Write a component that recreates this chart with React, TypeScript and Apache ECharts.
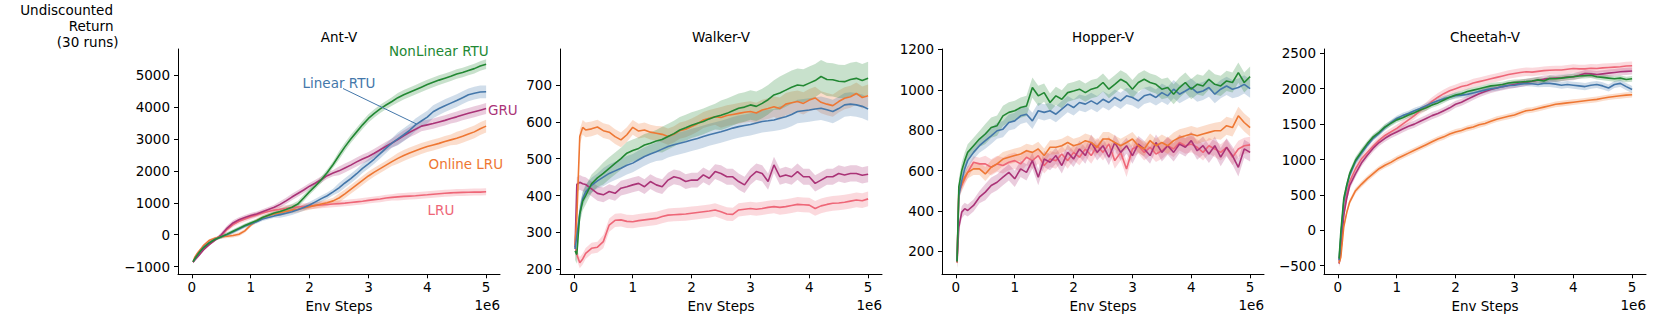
import React, { useEffect, useRef } from "react";
import * as echarts from "echarts";

// Env steps (x 1e6)
const X = [0.02, 0.05, 0.1, 0.15, 0.2, 0.3, 0.4, 0.5, 0.6, 0.7, 0.8, 0.9, 1.0, 1.1, 1.2, 1.3, 1.4, 1.5, 1.6, 1.7, 1.8, 1.9, 2.0, 2.1, 2.2, 2.3, 2.4, 2.5, 2.6, 2.7, 2.8, 2.9, 3.0, 3.1, 3.2, 3.3, 3.4, 3.5, 3.6, 3.7, 3.8, 3.9, 4.0, 4.1, 4.2, 4.3, 4.4, 4.5, 4.6, 4.7, 4.8, 4.9, 5.0];
const X_TICKS = [0, 1, 2, 3, 4, 5];

const METHODS = ["LRU", "GRU", "Online LRU", "Linear RTU", "NonLinear RTU"];
const COLORS = ["#EE6677", "#AA3377", "#EE7733", "#4477AA", "#228833"];

const PANELS = ["Ant-V", "Walker-V", "Hopper-V", "Cheetah-V"];

// ---- Ant-V ----
const antLRU = [-850, -770, -660, -550, -450, -290, -150, -30, 170, 320, 420, 490, 560, 620, 680, 730, 770, 800, 830, 850, 870, 885, 900, 915, 930, 945, 960, 975, 990, 1010, 1030, 1050, 1075, 1100, 1120, 1150, 1170, 1185, 1200, 1210, 1220, 1235, 1250, 1270, 1285, 1300, 1310, 1320, 1325, 1330, 1340, 1335, 1345];
const antGRU = [-860, -790, -690, -580, -470, -300, -160, 0, 210, 370, 470, 540, 600, 650, 720, 790, 860, 950, 1060, 1180, 1290, 1400, 1520, 1620, 1730, 1850, 1930, 2000, 2090, 2180, 2280, 2370, 2450, 2550, 2660, 2770, 2870, 2980, 3100, 3210, 3300, 3400, 3440, 3480, 3530, 3580, 3640, 3690, 3750, 3800, 3850, 3900, 3950];
const antOnlineLRU = [-850, -700, -560, -450, -330, -170, -100, -65, -45, -25, 15, 120, 300, 440, 530, 600, 650, 690, 730, 770, 800, 840, 880, 920, 960, 1000, 1060, 1150, 1280, 1420, 1560, 1700, 1840, 1960, 2070, 2180, 2290, 2390, 2480, 2560, 2630, 2700, 2760, 2810, 2860, 2920, 2970, 3020, 3080, 3150, 3220, 3320, 3400];
const antLinearRTU = [-850, -760, -620, -500, -390, -240, -130, -60, 10, 90, 180, 270, 340, 410, 490, 540, 590, 630, 670, 720, 780, 850, 930, 1030, 1130, 1220, 1340, 1470, 1620, 1760, 1910, 2080, 2220, 2370, 2540, 2710, 2870, 3000, 3130, 3270, 3440, 3560, 3680, 3850, 3950, 4040, 4120, 4200, 4290, 4380, 4430, 4470, 4475];
const antNonLinearRTU = [-840, -750, -620, -500, -400, -250, -140, -60, 20, 110, 200, 290, 370, 440, 540, 610, 680, 730, 790, 860, 960, 1150, 1350, 1530, 1720, 1950, 2200, 2480, 2750, 3000, 3220, 3440, 3640, 3800, 3940, 4060, 4170, 4290, 4380, 4460, 4540, 4620, 4700, 4770, 4840, 4900, 4960, 5030, 5080, 5140, 5200, 5280, 5340];
// spread (at 0,1,2,3,4,5 e6)
const antLRUsd = [40, 80, 100, 100, 110, 110];
const antGRUsd = [40, 80, 100, 140, 160, 170];
const antOnlineLRUsd = [40, 60, 100, 140, 170, 200];
const antLinearRTUsd = [40, 60, 100, 150, 200, 200];
const antNonLinearRTUsd = [40, 60, 100, 130, 150, 150];

// ---- Walker-V ----
const walkerLRU = [262, 240, 218, 228, 243, 257, 260, 275, 320, 333, 334, 330, 329, 332, 334, 336, 338, 343, 347, 348, 349, 350, 352, 354, 356, 358, 361, 356, 350, 349, 361, 363, 365, 363, 365, 368, 370, 368, 370, 373, 376, 375, 374, 365, 372, 376, 379, 380, 382, 385, 388, 386, 391];
const walkerGRU = [260, 430, 436, 432, 430, 418, 406, 402, 411, 406, 420, 424, 429, 433, 424, 438, 429, 424, 442, 451, 447, 438, 442, 442, 456, 447, 465, 460, 451, 451, 438, 429, 451, 465, 460, 438, 483, 451, 456, 451, 465, 451, 451, 433, 442, 451, 451, 460, 456, 460, 460, 455, 458];
const walkerOnlineLRU = [265, 340, 560, 585, 578, 581, 586, 576, 572, 560, 551, 565, 585, 575, 578, 572, 569, 566, 560, 566, 576, 580, 587, 595, 605, 610, 614, 612, 617, 620, 623, 626, 628, 624, 632, 636, 641, 636, 648, 652, 655, 650, 659, 665, 653, 648, 644, 655, 664, 668, 677, 666, 671];
const walkerLinearRTU = [255, 290, 352, 392, 410, 428, 440, 450, 460, 467, 474, 482, 488, 497, 506, 513, 519, 526, 533, 538, 542, 546, 551, 555, 560, 565, 569, 573, 578, 583, 587, 590, 593, 597, 601, 603, 605, 610, 614, 620, 628, 630, 632, 635, 637, 633, 628, 636, 646, 648, 646, 642, 635];
const walkerNonLinearRTU = [250, 240, 350, 385, 400, 432, 448, 460, 474, 487, 500, 515, 522, 528, 537, 542, 548, 552, 560, 568, 578, 584, 591, 596, 601, 608, 614, 618, 623, 630, 637, 640, 646, 642, 650, 660, 673, 678, 686, 694, 700, 698, 705, 712, 723, 715, 714, 710, 709, 715, 718, 712, 718];
const walkerLRUsd = [15, 18, 18, 18, 20, 20];
const walkerGRUsd = [20, 20, 20, 22, 22, 22];
const walkerOnlineLRUsd = [20, 20, 22, 28, 30, 30];
const walkerLinearRTUsd = [20, 25, 30, 30, 32, 32];
const walkerNonLinearRTUsd = [25, 30, 35, 40, 45, 45];

// ---- Hopper-V ----
const hopperLRU = [145, 493, 526, 559, 591, 641, 633, 633, 616, 633, 625, 641, 649, 633, 666, 649, 674, 625, 657, 649, 682, 649, 690, 666, 707, 674, 723, 690, 731, 649, 690, 608, 707, 723, 690, 715, 682, 698, 723, 707, 739, 723, 731, 715, 690, 723, 707, 690, 715, 666, 707, 723, 727];
const hopperGRU = [145, 320, 394, 411, 402, 427, 468, 493, 526, 542, 567, 591, 559, 608, 591, 649, 567, 657, 641, 674, 625, 690, 657, 707, 674, 739, 690, 723, 666, 739, 690, 723, 674, 731, 707, 674, 739, 690, 723, 690, 731, 715, 748, 698, 723, 682, 723, 666, 715, 674, 616, 707, 690];
const hopperOnlineLRU = [145, 493, 534, 567, 591, 608, 608, 583, 616, 633, 657, 666, 674, 682, 698, 690, 707, 674, 715, 715, 723, 739, 723, 731, 748, 739, 715, 756, 756, 739, 723, 739, 756, 723, 707, 748, 723, 739, 723, 748, 764, 772, 781, 772, 781, 789, 797, 797, 822, 813, 871, 838, 813];
const hopperLinearRTU = [150, 476, 550, 608, 649, 690, 723, 748, 772, 797, 805, 838, 846, 871, 879, 846, 896, 888, 896, 879, 904, 929, 912, 937, 929, 945, 929, 953, 937, 962, 945, 970, 962, 945, 970, 978, 962, 986, 970, 1003, 978, 994, 1011, 986, 994, 1011, 978, 1003, 1019, 1003, 1011, 1027, 1006];
const hopperNonLinearRTU = [150, 520, 600, 649, 690, 723, 756, 781, 813, 822, 871, 888, 896, 912, 920, 1011, 970, 986, 937, 970, 953, 986, 994, 1003, 986, 1003, 1011, 1036, 1003, 1027, 1052, 1036, 1003, 1036, 1052, 1036, 1027, 1003, 1011, 978, 1011, 1036, 1003, 1027, 1019, 1052, 1027, 1019, 1044, 1036, 1085, 1036, 1065];
const hopperLRUsd = [30, 40, 40, 40, 40, 40];
const hopperGRUsd = [30, 40, 40, 40, 45, 45];
const hopperOnlineLRUsd = [30, 35, 35, 35, 40, 45];
const hopperLinearRTUsd = [35, 40, 40, 40, 45, 45];
const hopperNonLinearRTUsd = [40, 50, 45, 45, 50, 50];

// ---- Cheetah-V ----
const cheetahLRU = [-430, -280, 260, 520, 690, 870, 1010, 1100, 1190, 1270, 1340, 1390, 1440, 1500, 1560, 1620, 1690, 1750, 1820, 1880, 1930, 1970, 2000, 2030, 2050, 2080, 2100, 2120, 2140, 2160, 2180, 2200, 2215, 2230, 2240, 2235, 2245, 2255, 2260, 2265, 2265, 2275, 2285, 2280, 2280, 2290, 2285, 2295, 2300, 2305, 2310, 2320, 2325];
const cheetahGRU = [-470, -300, 210, 450, 630, 800, 950, 1060, 1160, 1240, 1300, 1350, 1390, 1430, 1470, 1500, 1540, 1580, 1620, 1650, 1690, 1730, 1780, 1810, 1850, 1890, 1930, 1960, 1990, 2010, 2030, 2045, 2060, 2075, 2090, 2105, 2120, 2135, 2145, 2150, 2155, 2165, 2170, 2190, 2215, 2210, 2200, 2210, 2220, 2230, 2240, 2245, 2250];
const cheetahOnlineLRU = [-460, -380, 50, 250, 400, 560, 650, 730, 800, 870, 920, 960, 1010, 1050, 1090, 1130, 1170, 1210, 1250, 1290, 1320, 1360, 1390, 1410, 1440, 1460, 1490, 1510, 1540, 1570, 1590, 1610, 1630, 1660, 1690, 1700, 1720, 1740, 1760, 1780, 1790, 1800, 1810, 1820, 1830, 1840, 1850, 1865, 1880, 1890, 1900, 1910, 1915];
const cheetahLinearRTU = [-420, -90, 400, 615, 780, 970, 1090, 1200, 1300, 1370, 1450, 1520, 1580, 1620, 1650, 1690, 1720, 1760, 1800, 1830, 1860, 1880, 1900, 1910, 1920, 1940, 1960, 1980, 2000, 2010, 2030, 2045, 2050, 2065, 2075, 2070, 2060, 2075, 2075, 2065, 2050, 2060, 2050, 2040, 2030, 2050, 2060, 2040, 2010, 2060, 2075, 2030, 1990];
const cheetahNonLinearRTU = [-400, -20, 450, 640, 800, 990, 1110, 1225, 1320, 1385, 1460, 1510, 1560, 1590, 1630, 1660, 1700, 1730, 1770, 1800, 1840, 1880, 1910, 1930, 1960, 1980, 2000, 2020, 2040, 2050, 2060, 2080, 2090, 2095, 2100, 2110, 2125, 2110, 2145, 2140, 2150, 2160, 2170, 2180, 2185, 2190, 2170, 2160, 2150, 2140, 2150, 2130, 2140];
const cheetahLRUsd = [50, 50, 60, 60, 60, 60];
const cheetahGRUsd = [50, 50, 50, 50, 50, 50];
const cheetahOnlineLRUsd = [40, 40, 40, 40, 40, 40];
const cheetahLinearRTUsd = [50, 40, 40, 40, 50, 50];
const cheetahNonLinearRTUsd = [50, 40, 40, 40, 40, 40];

// y axis ticks per panel
const antYTicks = [-1000, 0, 1000, 2000, 3000, 4000, 5000];
const walkerYTicks = [200, 300, 400, 500, 600, 700];
const hopperYTicks = [200, 400, 600, 800, 1000, 1200];
const cheetahYTicks = [-500, 0, 500, 1000, 1500, 2000, 2500];

const PANEL_MEANS = [
  [antLRU, antGRU, antOnlineLRU, antLinearRTU, antNonLinearRTU],
  [walkerLRU, walkerGRU, walkerOnlineLRU, walkerLinearRTU, walkerNonLinearRTU],
  [hopperLRU, hopperGRU, hopperOnlineLRU, hopperLinearRTU, hopperNonLinearRTU],
  [cheetahLRU, cheetahGRU, cheetahOnlineLRU, cheetahLinearRTU, cheetahNonLinearRTU],
];
const PANEL_SDS = [
  [antLRUsd, antGRUsd, antOnlineLRUsd, antLinearRTUsd, antNonLinearRTUsd],
  [walkerLRUsd, walkerGRUsd, walkerOnlineLRUsd, walkerLinearRTUsd, walkerNonLinearRTUsd],
  [hopperLRUsd, hopperGRUsd, hopperOnlineLRUsd, hopperLinearRTUsd, hopperNonLinearRTUsd],
  [cheetahLRUsd, cheetahGRUsd, cheetahOnlineLRUsd, cheetahLinearRTUsd, cheetahNonLinearRTUsd],
];
const PANEL_YTICKS = [antYTicks, walkerYTicks, hopperYTicks, cheetahYTicks];

// layout (pixels) and axis extents
const GRID_LEFTS = [178, 560, 942, 1324];
const GRID_W = 322;
const GRID_TOP = 49;
const GRID_H = 225.3;
const Y_EXTENTS = [
  [-1238, 5814],
  [186.4, 797.6],
  [86, 1202],
  [-621, 2561],
];
const X_MIN = -0.236;
const X_MAX = 5.236;
const FONT = "DejaVu Sans";
const FS = 13.5;

export default function App() {
  const ref = useRef<HTMLDivElement>(null);
  useEffect(() => {
    if (!ref.current) return;
    const chart = echarts.init(ref.current, undefined, { renderer: "svg" });

    const grids: any[] = [];
    const xAxes: any[] = [];
    const yAxes: any[] = [];
    const series: any[] = [];
    const graphics: any[] = [];

    PANELS.forEach((title, p) => {
      const left = GRID_LEFTS[p];
      grids.push({ left, top: GRID_TOP, width: GRID_W, height: GRID_H, containLabel: false });
      xAxes.push({
        type: "value",
        gridIndex: p,
        min: X_MIN,
        max: X_MAX,
        axisLine: { show: true, onZero: false, lineStyle: { color: "#000", width: 1 } },
        axisTick: { show: true, length: 4, customValues: X_TICKS, lineStyle: { color: "#000", width: 1 } },
        axisLabel: { customValues: X_TICKS, color: "#000", fontSize: FS, fontFamily: FONT, margin: 6 },
        splitLine: { show: false },
      });
      yAxes.push({
        type: "value",
        gridIndex: p,
        min: Y_EXTENTS[p][0],
        max: Y_EXTENTS[p][1],
        axisLine: { show: true, onZero: false, lineStyle: { color: "#000", width: 1 } },
        axisTick: { show: true, length: 4, customValues: PANEL_YTICKS[p], lineStyle: { color: "#000", width: 1 } },
        axisLabel: {
          customValues: PANEL_YTICKS[p],
          color: "#000",
          fontSize: FS,
          fontFamily: FONT,
          margin: 8,
          formatter: (v: number) => String(v).replace("-", "\u2212"),
        },
        splitLine: { show: false },
      });

      const means = PANEL_MEANS[p];
      const sds = PANEL_SDS[p];
      // bands
      means.forEach((mean, m) => {
        const sd = sds[m];
        const data = X.map((x, i) => {
          const s = sd[Math.min(5, Math.round(x))];
          return [x, mean[i] - s, mean[i] + s];
        });
        const fill = echarts.color.modifyAlpha(COLORS[m], 0.25);
        series.push({
          type: "custom",
          name: METHODS[m] + " band",
          xAxisIndex: p,
          yAxisIndex: p,
          z: 1,
          silent: true,
          clip: true,
          data,
          encode: { x: 0, y: [1, 2] },
          renderItem: (params: any, api: any) => {
            if (params.dataIndex !== 0) return { type: "group", children: [] };
            const upper = data.map((d) => api.coord([d[0], d[2]]));
            const lower = data.map((d) => api.coord([d[0], d[1]])).reverse();
            return {
              type: "polygon",
              shape: { points: upper.concat(lower) },
              style: { fill, stroke: "none" },
            };
          },
        });
      });
      // lines
      means.forEach((mean, m) => {
        series.push({
          type: "line",
          name: METHODS[m],
          xAxisIndex: p,
          yAxisIndex: p,
          z: 2,
          silent: true,
          clip: true,
          showSymbol: false,
          symbol: "none",
          data: X.map((x, i) => [x, mean[i]]),
          lineStyle: { color: COLORS[m], width: 1.6 },
          itemStyle: { color: COLORS[m] },
        });
      });

      const cx = left + GRID_W / 2;
      graphics.push({
        type: "text",
        x: cx,
        y: 37,
        style: { text: title, fill: "#000", font: `${FS}px ${FONT}`, textAlign: "center", textVerticalAlign: "middle" },
      });
      graphics.push({
        type: "text",
        x: cx,
        y: 306,
        style: { text: "Env Steps", fill: "#000", font: `${FS}px ${FONT}`, textAlign: "center", textVerticalAlign: "middle" },
      });
      graphics.push({
        type: "text",
        x: left + GRID_W,
        y: 305,
        style: { text: "1e6", fill: "#000", font: `${FS}px ${FONT}`, textAlign: "right", textVerticalAlign: "middle" },
      });
    });

    // y label
    const yl = [
      { t: "Undiscounted", x: 113, y: 10 },
      { t: "Return", x: 113.5, y: 26 },
      { t: "(30 runs)", x: 118.5, y: 41.5 },
    ];
    yl.forEach((l) =>
      graphics.push({
        type: "text",
        x: l.x,
        y: l.y,
        style: { text: l.t, fill: "#000", font: `${FS}px ${FONT}`, textAlign: "right", textVerticalAlign: "middle" },
      })
    );

    // in-plot labels (Ant-V)
    const labels = [
      { t: "NonLinear RTU", c: COLORS[4], x: 389, y: 51 },
      { t: "Linear RTU", c: COLORS[3], x: 302.5, y: 82.5 },
      { t: "GRU", c: COLORS[1], x: 488, y: 110 },
      { t: "Online LRU", c: COLORS[2], x: 428.5, y: 163.5 },
      { t: "LRU", c: COLORS[0], x: 427.5, y: 209.5 },
    ];
    labels.forEach((l) =>
      graphics.push({
        type: "text",
        x: l.x,
        y: l.y,
        z: 10,
        style: { text: l.t, fill: l.c, font: `${FS}px ${FONT}`, textAlign: "left", textVerticalAlign: "middle" },
      })
    );
    graphics.push({
      type: "line",
      z: 10,
      shape: { x1: 343, y1: 88.5, x2: 416.5, y2: 124 },
      style: { stroke: COLORS[3], lineWidth: 1 },
    });

    chart.setOption({
      animation: false,
      textStyle: { fontFamily: FONT },
      grid: grids,
      xAxis: xAxes,
      yAxis: yAxes,
      series,
      graphic: graphics,
    });
    return () => chart.dispose();
  }, []);

  return (
    <div
      ref={ref}
      style={{ position: "absolute", left: 0, top: 0, width: 1661, height: 332, background: "#fff" }}
    />
  );
}
